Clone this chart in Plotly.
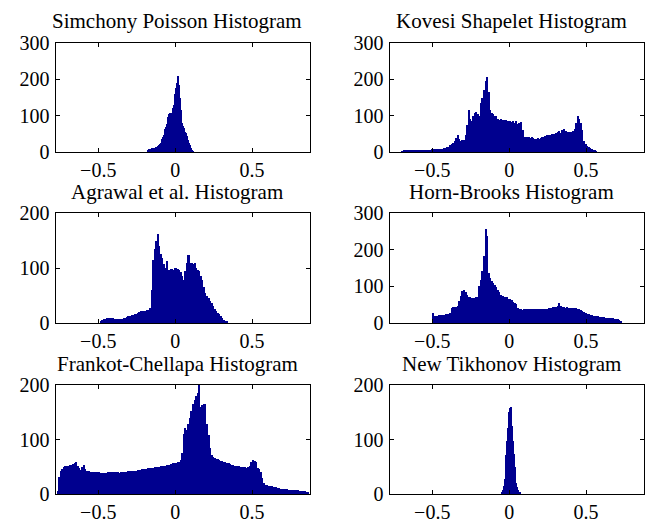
import numpy as np
import plotly.graph_objects as go

# ---------------- data (bin counts) ----------------
titles = ["Simchony Poisson Histogram", "Kovesi Shapelet Histogram",
          "Agrawal et al. Histogram", "Horn-Brooks Histogram",
          "Frankot-Chellapa Histogram", "New Tikhonov Histogram"]

# Simchony Poisson: bins of 0.005 starting at -0.185
simchony_start, simchony_width = -0.185, 0.005
simchony_counts = [3, 6, 8, 9, 9, 10, 10, 11, 11, 12, 12,
                   13, 14, 15, 17, 19, 22,
                   26, 30, 36, 42, 48, 55,
                   62, 70, 78, 86, 95, 104,
                   106, 98, 95, 108,
                   120, 130, 145, 160,
                   175, 190, 200, 208,
                   185, 150, 115, 90,
                   80, 72, 66, 62,
                   56, 52, 45, 38,
                   32, 26, 18, 12,
                   7, 4, 2]

# Kovesi Shapelet: bins of 0.01 starting at -0.70
kovesi_start, kovesi_width = -0.70, 0.01
kovesi_counts = [2, 3, 3, 3, 3, 4, 4, 4, 4, 4,
                 4, 5, 5, 5, 5, 5, 6, 6, 6, 7,
                 7, 7, 8, 8, 8, 9, 9, 10, 11, 13,
                 15, 18, 22, 25, 30, 38, 48, 35, 30, 32,
                 34, 48, 75, 115, 90, 85, 100, 106, 110, 104,
                 98, 135, 150, 170, 195, 206, 165, 115, 108, 104,
                 100, 98, 92, 88, 90, 87, 85, 88, 86, 84,
                 86, 83, 85, 80, 84, 78, 80, 82, 60, 42,
                 40, 40, 41, 39, 40, 38, 37, 37, 38, 37,
                 39, 40, 42, 44, 46, 47, 48, 50, 49, 50,
                 52, 55, 58, 52, 60, 62, 58, 56, 55, 54,
                 55, 58, 62, 80, 99, 92, 80, 60, 30, 22,
                 17, 14, 12, 9, 6, 3, 1]

# Agrawal et al.: bins of 0.01 starting at -0.49
agrawal_start, agrawal_width = -0.49, 0.01
agrawal_counts = [3, 5, 7, 8, 9, 9, 10, 9, 9,
                  8, 7, 7, 8, 8, 8, 9, 10, 11, 12,
                  13, 14, 15, 16, 17, 19, 20, 21, 22, 21,
                  22, 23, 24, 28, 60, 115, 135, 150, 162, 140,
                  125, 118, 108, 100, 112, 96, 92, 98, 96, 100,
                  100, 99, 97, 93, 86, 79, 95, 110, 123, 108,
                  110, 108, 110, 100, 97, 94, 86, 78, 66, 54,
                  50, 45, 40, 36, 31, 25, 22, 19, 16, 12,
                  9, 6, 4, 2]

# Horn-Brooks: bins of 0.01 starting at -0.50
horn_start, horn_width = -0.50, 0.01
horn_counts = [26, 20, 18, 19, 21, 22, 23, 23, 24, 24,
               25, 26, 42, 43, 44, 45, 46, 60, 75, 86,
               90, 84, 77, 72, 70, 68, 67, 68, 70, 72,
               100, 118, 141, 183, 257, 238, 137, 122, 115, 108,
               104, 98, 90, 85, 77, 75, 72, 70, 70, 66,
               65, 62, 58, 55, 52, 40, 37, 37, 36, 37,
               38, 37, 39, 38, 37, 37, 38, 37, 38, 38,
               38, 37, 38, 39, 39, 40, 41, 42, 43, 44,
               44, 46, 55, 46, 44, 43, 42, 43, 42, 42,
               42, 42, 41, 40, 39, 38, 36, 33, 30, 27,
               25, 24, 22, 21, 20, 19, 18, 18, 17, 17,
               16, 16, 15, 15, 15, 14, 13, 13, 12, 12,
               10, 8, 6]

# Frankot-Chellapa: bins of 0.01 starting at -0.77
frankot_start, frankot_width = -0.77, 0.01
frankot_counts = [5, 32, 42, 46, 49, 51, 52,
                  52, 53, 54, 55, 56, 58, 52, 48, 44, 50,
                  53, 45, 42, 42, 41, 41, 40, 40, 40, 40,
                  40, 39, 39, 38, 38, 39, 40, 40, 41, 41,
                  40, 40, 40, 39, 40, 41, 41, 41, 41, 42,
                  42, 42, 42, 43, 43, 44, 44, 44, 45, 45,
                  46, 46, 47, 47, 48, 48, 49, 49, 50, 50,
                  51, 51, 52, 52, 53, 54, 54, 55, 56, 56,
                  57, 58, 59, 62, 75, 110, 121, 118, 128, 140,
                  152, 165, 172, 180, 186, 200, 160, 164, 166, 165,
                  128, 108, 85, 72, 68, 66, 65, 64, 62, 61,
                  60, 59, 58, 57, 56, 55, 54, 53, 52, 52,
                  51, 51, 50, 50, 49, 49, 48, 50, 52, 58,
                  63, 60, 58, 48, 45, 41, 30, 20, 17, 16,
                  15, 14, 14, 13, 13, 12, 11, 11, 10, 10,
                  9, 9, 9, 8, 8, 8, 7, 7, 7, 7,
                  6, 6, 6, 5, 5, 4, 3]

# New Tikhonov: bins of 0.005 starting at -0.055
tikhonov_start, tikhonov_width = -0.055, 0.005
tikhonov_counts = [2, 4, 7, 14, 28, 48, 72, 98, 122, 140, 150, 158, 160,
                   145, 125, 98, 74, 50, 32, 20, 12, 8, 5, 3, 2]

x_tick_vals = [-0.5, 0, 0.5]
x_tick_text = ["\u22120.5", "0", "0.5"]
y_tops = [300, 300, 200, 300, 200, 200]
y_tick_sets = [[0, 100, 200, 300], [0, 100, 200, 300], [0, 100, 200],
               [0, 100, 200, 300], [0, 100, 200], [0, 100, 200]]

series = [(simchony_start, simchony_width, simchony_counts),
          (kovesi_start, kovesi_width, kovesi_counts),
          (agrawal_start, agrawal_width, agrawal_counts),
          (horn_start, horn_width, horn_counts),
          (frankot_start, frankot_width, frankot_counts),
          (tikhonov_start, tikhonov_width, tikhonov_counts)]

# ---------------- layout ----------------
W, H = 651, 525
BAR = "rgb(0,0,143)"
FONT = "Liberation Serif, Times New Roman, serif"
FS_TICK = 20
FS_TITLE = 21

col_px = [(55.5, 310.0), (389.5, 644.0)]
row_px = [(43.0, 152.0), (213.0, 323.0), (385.0, 494.0)]
title_x_px = [177.0, 511.0]
title_y_px = [21.0, 192.0, 364.0]
x_range = [-0.778, 0.877]

fig = go.Figure()
annotations = []
for i, (start, width, counts) in enumerate(series):
    r, c = divmod(i, 2)
    n = i + 1
    xa = "x" if n == 1 else f"x{n}"
    ya = "y" if n == 1 else f"y{n}"
    centers = start + width * (np.arange(len(counts)) + 0.5)
    fig.add_trace(go.Bar(x=centers, y=counts, width=width * 1.05, xaxis=xa, yaxis=ya,
                         marker=dict(color=BAR, line=dict(width=0)),
                         showlegend=False, hoverinfo="skip"))
    x0, x1 = col_px[c]
    y0, y1 = row_px[r]
    axis_common = dict(showline=True, linecolor="black", linewidth=1.2,
                       mirror="allticks", ticks="inside", ticklen=4,
                       tickcolor="black", tickwidth=1, showgrid=False,
                       zeroline=False, automargin=False,
                       tickfont=dict(family=FONT, size=FS_TICK, color="black"))
    fig.update_layout(**{
        ("xaxis" if n == 1 else f"xaxis{n}"): dict(
            domain=[x0 / W, x1 / W], anchor=ya, range=x_range,
            tickvals=x_tick_vals, ticktext=x_tick_text, ticklabelstandoff=0,
            **axis_common),
        ("yaxis" if n == 1 else f"yaxis{n}"): dict(
            domain=[1 - y1 / H, 1 - y0 / H], anchor=xa, range=[0, y_tops[i]],
            tickvals=y_tick_sets[i], ticklabelstandoff=1, **axis_common),
    })
    annotations.append(dict(text=titles[i], xref="paper", yref="paper",
                            x=title_x_px[c] / W, y=1 - title_y_px[r] / H,
                            xanchor="center", yanchor="middle", showarrow=False,
                            font=dict(family=FONT, size=FS_TITLE, color="black")))

fig.update_layout(width=W, height=H, margin=dict(l=0, r=0, t=0, b=0),
                  paper_bgcolor="white", plot_bgcolor="white",
                  bargap=0, barmode="overlay", annotations=annotations)

fig.write_html("out.html")
